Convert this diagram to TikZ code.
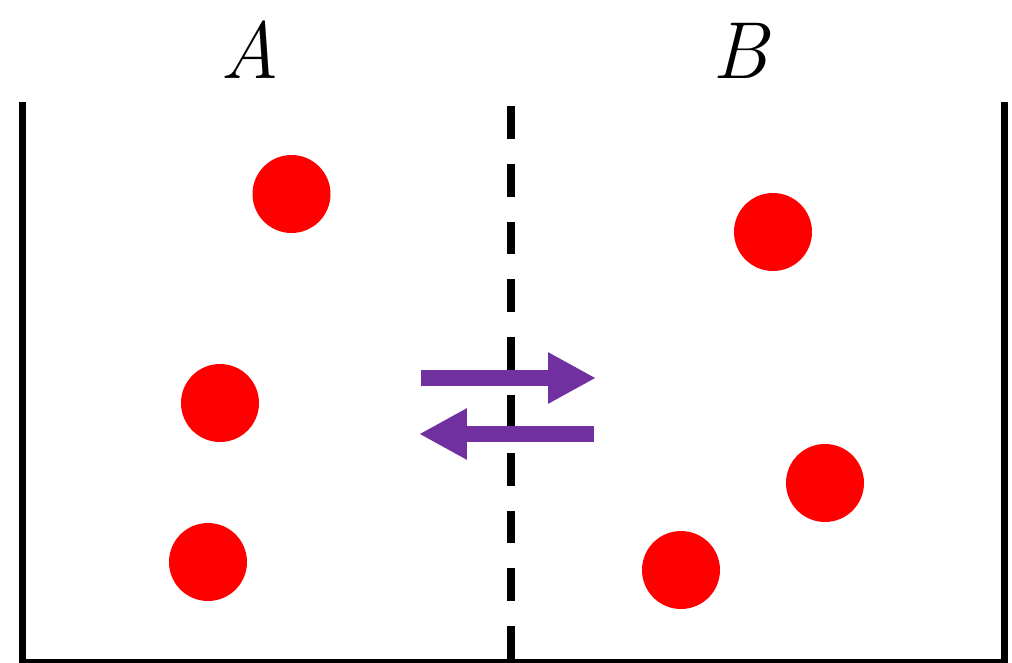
\documentclass[tikz,border=0pt]{standalone}
\usepackage{tikz}
\usetikzlibrary{arrows.meta}

\definecolor{fluxpurple}{HTML}{7030A0}

\begin{document}
\begin{tikzpicture}[
  x=0.02cm, y=-0.02cm,
  wall/.style={draw=black, line width=4.54pt},
  divider/.style={draw=black, line width=4.54pt, dash pattern=on 18.7pt off 14.2pt},
  particle/.style={circle, fill=red, minimum size=1.56cm, inner sep=0pt},
  flux/.style={draw=fluxpurple, line width=9.07pt, -{Triangle[length=27.2pt, width=27.2pt]}},
  label/.style={font=\fontsize{46}{46}\selectfont\itshape, anchor=base}
]
\useasboundingbox (0,0) rectangle (1012,663);
\begin{scope}
\clip (0,0) rectangle (1012,663);
\draw[wall] (22.5,102) -- (22.5,663) -- (1004.5,663) -- (1004.5,102);
\draw[divider] (511,106) -- (511,663);
\end{scope}

\node[label] (labA) at (250,78) {A};
\node[label] (labB) at (740,78) {B};

\node[particle] (a1) at (291.5,194) {};
\node[particle] (a2) at (220,403) {};
\node[particle] (a3) at (208,562) {};
\node[particle] (b1) at (773,232) {};
\node[particle] (b2) at (825,483) {};
\node[particle] (b3) at (681,570) {};

\coordinate (fwdstart) at (421,378);
\coordinate (fwdend) at (596,378);
\coordinate (bwdstart) at (594,434);
\coordinate (bwdend) at (419,434);
\draw[flux] (fwdstart) -- (fwdend);
\draw[flux] (bwdstart) -- (bwdend);
\end{tikzpicture}
\end{document}
